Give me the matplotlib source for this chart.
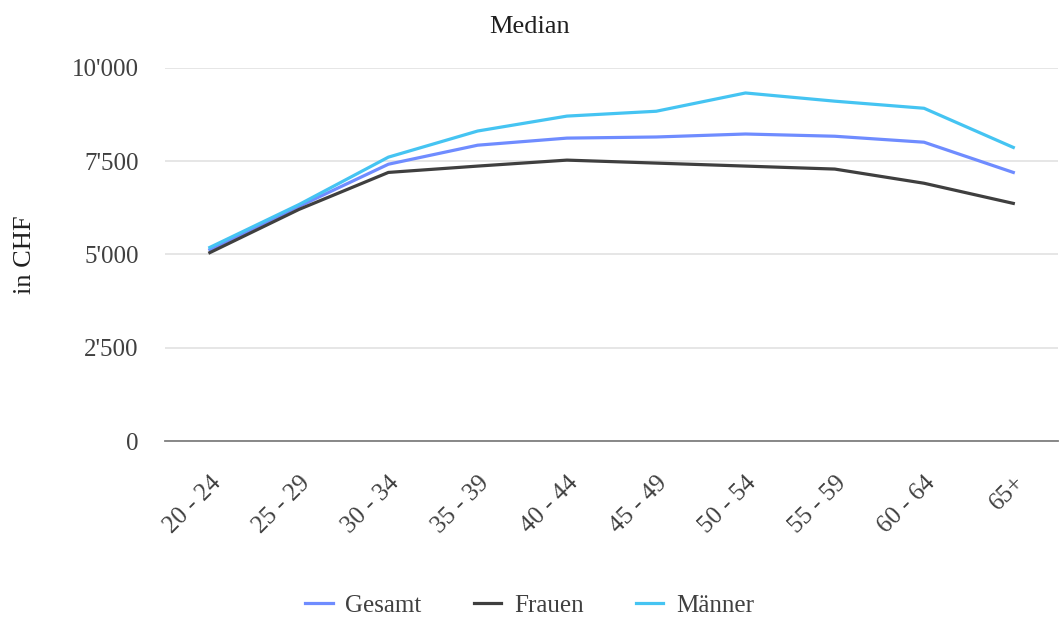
import matplotlib.pyplot as plt
from matplotlib.ticker import FuncFormatter

plt.rcParams['font.family'] = ['Liberation Serif', 'DejaVu Serif']

age_groups = ["20 - 24", "25 - 29", "30 - 34", "35 - 39", "40 - 44",
              "45 - 49", "50 - 54", "55 - 59", "60 - 64", "65+"]
gesamt = [5130, 6290, 7420, 7930, 8120, 8150, 8230, 8170, 8010, 7200]
frauen = [5050, 6210, 7200, 7370, 7530, 7450, 7370, 7290, 6910, 6370]
maenner = [5190, 6340, 7610, 8310, 8710, 8840, 9330, 9110, 8920, 7870]
y_ticks = [0, 2500, 5000, 7500, 10000]

fig = plt.figure(figsize=(10.59, 6.18), dpi=100)
ax = fig.add_axes([0.156, 0.2864, 0.843, 0.6036])

x = range(len(age_groups))
ax.plot(x, gesamt, color="#6f8cff", lw=2.3, label="Gesamt", zorder=3)
ax.plot(x, frauen, color="#3f3f3f", lw=2.3, label="Frauen", zorder=3)
ax.plot(x, maenner, color="#45c4f2", lw=2.3, label="Männer", zorder=3)

ax.set_xlim(-0.5, len(age_groups) - 0.5)
ax.set_ylim(0, 10000)
ax.set_yticks(y_ticks)
ax.yaxis.set_major_formatter(FuncFormatter(lambda v, p: f"{int(v):,}".replace(",", "'")))
ax.grid(axis="y", color="#e2e2e2", lw=1.2, zorder=0)
ax.set_axisbelow(True)
for s in ["top", "right", "left"]:
    ax.spines[s].set_visible(False)
ax.spines["bottom"].set_color("#7f7f7f")
ax.spines["bottom"].set_linewidth(1.3)
ax.tick_params(axis="both", length=0, labelsize=18, colors="#404040")
ax.tick_params(axis="y", pad=19)

ax.set_xticks(list(x))
ax.set_xticklabels(age_groups, rotation=45, ha="right", rotation_mode="anchor")
ax.tick_params(axis="x", pad=22)

ax.set_ylabel("in CHF", fontsize=19, color="#202020")
ax.yaxis.set_label_coords(-0.145, 0.5)

fig.text(0.5, 0.956, "Median", ha="center", va="center", fontsize=19, color="#202020")

fig.legend(loc="center", bbox_to_anchor=(0.5, 0.02), ncol=3, frameon=False,
           fontsize=18, handlelength=1.1, handletextpad=0.5, columnspacing=2.1,
           labelcolor="#404040")

fig.savefig("out.png", dpi=100)
